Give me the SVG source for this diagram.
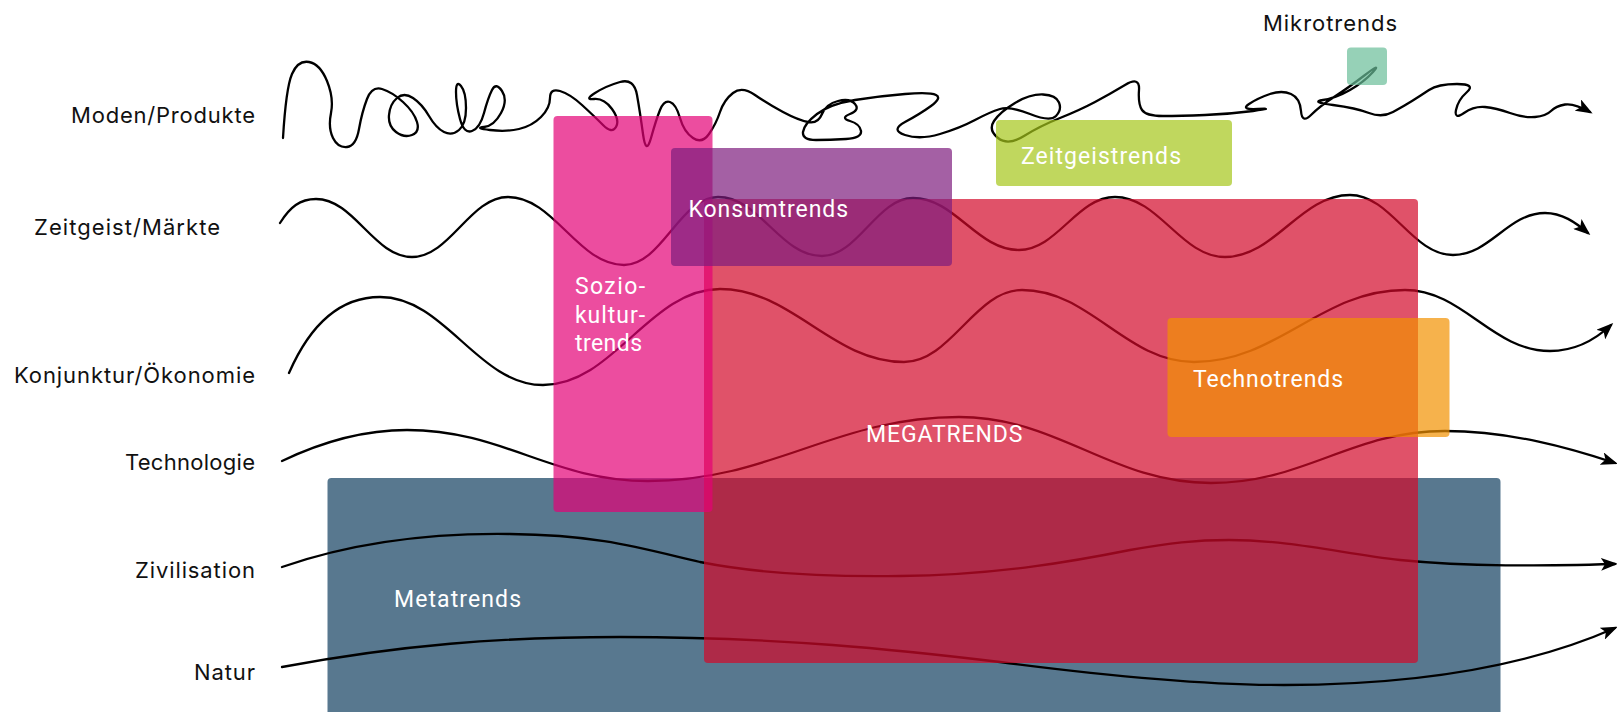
<svg xmlns="http://www.w3.org/2000/svg" width="1617" height="712" viewBox="0 0 1617 712">
  <defs>
    <style>
      .lbl { font-family: "Inter", "Liberation Sans", sans-serif; font-size: 22px; fill: #111; }
      .in { font-family: "Roboto", "Liberation Sans", sans-serif; font-size: 23px; fill: #fff; }
      .wave { fill: none; stroke: #000; stroke-width: 2.3; stroke-linecap: round; stroke-linejoin: round; }
      .arrow { marker-end: url(#tip); }
      .box { opacity: 0.7; }
    </style>
    <marker id="tip" markerUnits="userSpaceOnUse" markerWidth="17" markerHeight="13" viewBox="0 0 17 13" refX="14" refY="6.5" orient="auto">
      <path d="M0,0 L17,6.5 L0,13 L4,6.5 Z" fill="#000"/>
    </marker>
  </defs>
  <rect width="1617" height="712" fill="#fff"/>

  <!-- base layer: metatrends block -->
  <g id="metatrends">
    <rect x="327.5" y="478" width="1173" height="240" rx="4" fill="#58788f"/>
  </g>

  <!-- trend curves, one per level -->
  <g id="connectors">
    <path id="c-moden" class="wave arrow" d="M283,138 Q286,88 292,74 Q298,60 309,62 Q320,64 327,81 Q334,98 331,113 Q328,128 333,138 Q338,148 347,147 Q356,146 359,129 Q362,112 367,99 Q372,86 382,89 Q392,92 403,102 Q414,112 417,122 Q420,132 412,135 Q404,138 396,132 Q388,126 389,115 Q390,104 397,98 Q404,92 413,98 Q422,104 429,116 Q436,128 444,132 Q452,136 459,130 Q466,124 466,108 Q466,92 461,86 Q456,80 456,92 Q456,104 460,119 Q464,134 472,131 Q480,128 484,113 Q488,98 492,90 Q496,82 502,91 Q508,100 501,113 Q494,126 484,127 Q474,128 490,130 Q506,132 519,129 Q532,126 541,117 Q550,108 550,98 Q550,88 560,91 Q570,94 582,105 Q594,116 603,125 Q612,134 616,127 Q620,120 612,109 Q604,98 594,99 Q584,100 595,93 Q606,86 620,82 Q634,78 637,95 Q640,112 643,134 Q646,156 651,138 Q656,120 660,110 Q664,100 670,102 Q676,104 680,118 Q684,132 693,138 Q702,144 709,134 Q716,124 720,112 Q724,100 733,93 Q742,86 755,95 Q768,104 783,112 Q798,120 808,122 Q818,124 822,114 Q826,104 838,101 Q850,98 855,104 Q860,110 850,114 Q840,118 850,121 Q860,124 861,131 Q862,138 846,139 Q830,140 816,140 Q802,140 803,132 Q804,124 817,114 Q830,104 855,100 Q880,96 905,94 Q930,92 936,95 Q942,98 931,106 Q920,114 905,122 Q890,130 905,135 Q920,140 940,134 Q960,128 975,120 Q990,112 1000,109 Q1010,106 1030,114 Q1050,122 1056,116 Q1062,110 1059,102.5 Q1056,95 1043,94.5 Q1030,94 1015,103 Q1000,112 994,121 Q988,130 998,138 Q1008,146 1024,136 Q1040,126 1060,118 Q1080,110 1095,102 Q1110,94 1125,85 Q1140,76 1139,90 Q1138,104 1142,110 Q1146,116 1163,116 Q1180,116 1205,115 Q1230,114 1253,111 Q1276,108 1258,109 Q1240,110 1249,104 Q1258,98 1270,94 Q1282,90 1291,94 Q1300,98 1301,111 Q1302,124 1311,115 Q1320,106 1334,97 Q1348,88 1365,75 Q1382,62 1373,72 Q1364,82 1350,90 Q1336,98 1323,100 Q1310,102 1333,105 Q1356,108 1369,113 Q1382,118 1393,112 Q1404,106 1412,101 Q1420,96 1429,90 Q1438,84 1457,84 Q1476,84 1467,92 Q1458,100 1456,110 Q1454,120 1464,113 Q1474,106 1485,107 Q1496,108 1510,113 Q1524,118 1535,117 Q1546,116 1551,111 Q1556,106 1565,104.5 Q1574,103 1590,112"/>
    <path id="c-zeitgeist" class="wave arrow" d="M280,223 C290,207 300,199 316,199 C354,199 374,257 412,257 C450,257 470,197 508,197 C554,197 578,265 624,265 C662,265 680,197 718,197 C760,197 780,256 822,256 C858,256 877,198 913,198 C955,198 977,250 1019,250 C1057,250 1077,197 1115,197 C1159,197 1181,257 1225,257 C1275,257 1300,195 1350,195 C1391,195 1412,255 1453,255 C1490,255 1508,213 1545,213 C1562,213 1575,222 1588,233"/>
    <path id="c-konjunktur" class="wave arrow" d="M289,373 C310,325 340,297 380,297 C445,297 478,385 543,385 C613,385 650,289 720,289 C792,289 832,362 904,362 C951,362 975,290 1022,290 C1090,290 1126,362 1194,362 C1278,362 1321,290 1405,290 C1463,290 1492,351 1550,351 C1575,351 1595,340 1611,325"/>
    <path id="c-technologie" class="wave arrow" d="M282,461 C330,438 370,430 407,430 C503,430 552,481 648,481 C772,481 835,417 959,417 C1059,417 1111,483 1211,483 C1305,483 1351,431 1445,431 C1510,431 1570,448 1615,463"/>
    <path id="c-zivilisation" class="wave arrow" d="M282,567 C360,540 440,533 510,534 C600,535 640,548 700,562 C760,574 830,577 900,576 C1000,575 1080,560 1130,550 C1170,543 1195,540 1229,540 C1290,540 1340,553 1400,560 C1470,567 1540,566 1615,564"/>
    <path id="c-natur" class="wave arrow" d="M282,667 C400,645 500,637 620,637 C780,637 900,650 1000,662 C1100,675 1200,685 1284,685 C1400,685 1520,670 1615,628"/>
  </g>

  <!-- translucent trend fields -->
  <g id="megatrends">
    <rect class="box" x="704" y="199" width="714" height="464" rx="4" fill="rgb(211,8,42)"/>
  </g>
  <g id="soziokulturtrends">
    <rect class="box" x="553.5" y="116" width="159" height="396" rx="4" fill="rgb(228,2,118)"/>
  </g>
  <g id="konsumtrends">
    <rect class="box" x="671" y="148" width="281" height="118" rx="4" fill="rgb(125,28,125)"/>
  </g>
  <g id="zeitgeisttrends">
    <rect class="box" x="996" y="120" width="236" height="66" rx="4" fill="rgb(165,198,25)"/>
  </g>
  <g id="technotrends">
    <rect class="box" x="1167.5" y="318" width="282" height="119" rx="4" fill="rgb(242,145,0)"/>
  </g>
  <g id="mikrotrends">
    <rect class="box" x="1347" y="47.5" width="40" height="37.5" rx="4" fill="rgb(105,189,153)"/>
  </g>

  <!-- labels -->
  <g id="labels">
    <text class="lbl" x="255" y="122.5" text-anchor="end" textLength="184">Moden/Produkte</text>
    <text class="lbl" x="220" y="235" text-anchor="end" textLength="186">Zeitgeist/Märkte</text>
    <text class="lbl" x="255" y="382.5" text-anchor="end" textLength="241">Konjunktur/Ökonomie</text>
    <text class="lbl" x="255" y="470" text-anchor="end" textLength="130">Technologie</text>
    <text class="lbl" x="255" y="578" text-anchor="end" textLength="120">Zivilisation</text>
    <text class="lbl" x="255" y="680" text-anchor="end" textLength="61">Natur</text>
    <text class="lbl" x="1263" y="31" textLength="134">Mikrotrends</text>

    <text class="in" x="1021" y="164" textLength="160">Zeitgeistrends</text>
    <text class="in" x="688.5" y="216.5" textLength="159.5">Konsumtrends</text>
    <text class="in" x="575" y="293.5" textLength="70">Sozio-</text>
    <text class="in" x="575" y="323" textLength="70">kultur-</text>
    <text class="in" x="575" y="351" textLength="67">trends</text>
    <text class="in" x="1193" y="387" textLength="150">Technotrends</text>
    <text class="in" x="866" y="442" textLength="156.5">MEGATRENDS</text>
    <text class="in" x="394" y="606.5" textLength="127">Metatrends</text>
  </g>
</svg>
